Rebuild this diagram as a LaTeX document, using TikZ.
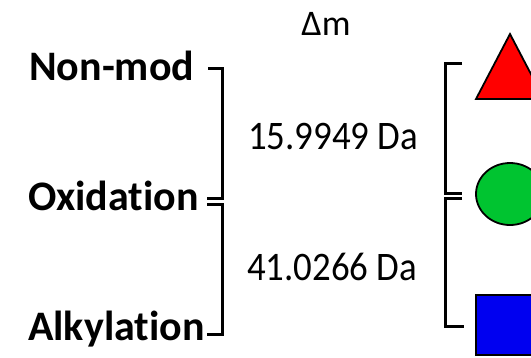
\documentclass[tikz,border=0pt]{standalone}
\usepackage{fontspec}
\usepackage{graphicx}
\setmainfont[Ligatures=NoCommon]{Carlito}
\usetikzlibrary{shapes.geometric}
\definecolor{tri}{RGB}{255,0,0}
\definecolor{circ}{RGB}{0,196,48}
\definecolor{sq}{RGB}{0,0,240}
\newcommand{\narrow}[1]{\scalebox{0.91}[1]{#1}}
\tikzset{
  lab/.style={inner sep=0pt, anchor=base west, font=\fontsize{42}{42}\selectfont\bfseries},
  mass/.style={inner sep=0pt, anchor=base west, font=\fontsize{40.5}{40.5}\selectfont},
  brk/.style={line width=3pt, line cap=butt, line join=miter},
  sym/.style={draw=black, line width=1.8pt},
}
\begin{document}
\begin{tikzpicture}[x=1pt,y=-1pt]
\useasboundingbox (0,0) rectangle (531,357);
\begin{scope}
\clip (0,0) rectangle (531,357);
% labels
\node[inner sep=0pt, font=\fontsize{36}{36}\selectfont] (dm) at (326,24) {Δm};
\node[lab] (nonmod) at (29,80) {Non-mod};
\node[lab] (oxid) at (28,210) {Oxidation};
\node[lab] (alky) at (28,340) {Alkylation};
\node[mass] (m1) at (248,149) {\narrow{15.9949 Da}};
\node[mass] (m2) at (247,280) {\narrow{41.0266 Da}};
% left brackets
\coordinate (l1a) at (208,68);
\coordinate (l1b) at (207,198);
\coordinate (l2a) at (207,204);
\coordinate (l2b) at (207,334);
\draw[brk] (l1a) -| (222,198) -- (l1b);
\draw[brk] (l2a) -| (222,334) -- (l2b);
% right brackets
\coordinate (r1a) at (462,63);
\coordinate (r1b) at (462,193);
\coordinate (r2a) at (462,198);
\coordinate (r2b) at (464,326);
\draw[brk] (r1a) -| (445,193) -- (r1b);
\draw[brk] (r2a) -| (445,326) -- (r2b);
% symbols
\draw[sym, fill=tri] (476,99) -- (510,34) -- (544,99) -- cycle;
\draw[sym, fill=circ] (510,194) ellipse [x radius=34, y radius=31];
\draw[sym, fill=sq] (476,295) rectangle (538,355);
\end{scope}
\end{tikzpicture}
\end{document}
